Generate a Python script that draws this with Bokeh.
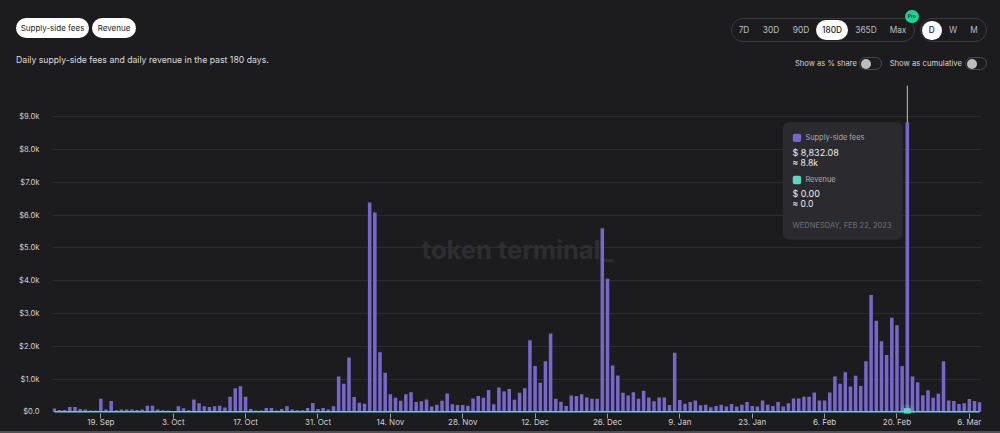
import json
import pandas as pd
from bokeh.plotting import figure
from bokeh.models import (Range1d, FixedTicker, CustomJSTickFormatter, Label,
                          BoxAnnotation, Span, Div)
from bokeh.layouts import column
from bokeh.embed import file_html
from bokeh.resources import INLINE

# ---------------- data ----------------
START_DATE = "2022-09-10"
N_DAYS = 180

supply_side_fees = [
    100, 60, 60, 150, 150, 90, 70, 40, 40, 400,
    70, 330, 50, 70, 70, 70, 60, 70, 190, 190,
    70, 50, 40, 15, 170, 110, 50, 380, 260, 170,
    150, 170, 190, 130, 460, 720, 780, 460, 90, 40,
    40, 120, 120, 40, 90, 170, 70, 50, 50, 120,
    270, 90, 120, 70, 170, 1080, 860, 1660, 450, 280,
    250, 6380, 6080, 1820, 1190, 540, 430, 340, 540, 600,
    300, 320, 380, 160, 220, 340, 560, 230, 210, 210,
    190, 410, 480, 430, 670, 230, 740, 620, 700, 370,
    580, 720, 2180, 1400, 890, 1540, 2390, 400, 310, 180,
    500, 480, 540, 440, 400, 400, 5600, 4060, 1410, 1110,
    580, 500, 600, 400, 640, 440, 320, 440, 440, 210,
    1800, 360, 250, 300, 350, 200, 220, 140, 180, 220,
    160, 240, 160, 220, 300, 180, 160, 350, 220, 180,
    300, 160, 260, 410, 410, 460, 460, 590, 350, 350,
    590, 1080, 860, 1210, 770, 1100, 790, 1540, 3560, 2780,
    2150, 1730, 2870, 2640, 1400, 8832.08, 1080, 900, 510, 660,
    430, 550, 1540, 350, 330, 240, 260, 390, 330, 290,
]

revenue = [
    0, 0, 0, 0, 0, 0, 0, 0, 0, 0, 0, 0, 0, 0, 0, 0, 0, 0, 0, 0,
    0, 0, 0, 0, 0, 0, 0, 0, 0, 0, 0, 0, 0, 0, 0, 0, 0, 0, 0, 0,
    0, 0, 0, 0, 0, 0, 0, 0, 0, 0, 0, 0, 0, 0, 0, 0, 0, 0, 0, 0,
    0, 0, 0, 0, 0, 0, 0, 0, 0, 0, 0, 0, 0, 0, 0, 0, 0, 0, 0, 0,
    0, 0, 0, 0, 0, 0, 0, 0, 0, 0, 0, 0, 0, 0, 0, 0, 0, 0, 0, 0,
    0, 0, 0, 0, 0, 0, 0, 0, 0, 0, 0, 0, 0, 0, 0, 0, 0, 0, 0, 0,
    0, 0, 0, 0, 0, 0, 0, 0, 0, 0, 0, 0, 0, 0, 0, 0, 0, 0, 0, 0,
    0, 0, 0, 0, 0, 0, 0, 0, 0, 0, 0, 0, 0, 0, 0, 0, 0, 0, 0, 0,
    0, 0, 0, 0, 0, 0, 0, 0, 0, 0, 0, 0, 0, 0, 0, 0, 0, 0, 0, 0,
]

x_tick_dates = ["2022-09-19", "2022-10-03", "2022-10-17", "2022-10-31",
                "2022-11-14", "2022-11-28", "2022-12-12", "2022-12-26",
                "2023-01-09", "2023-01-23", "2023-02-06", "2023-02-20",
                "2023-03-06"]
x_tick_labels = ["19. Sep", "3. Oct", "17. Oct", "31. Oct", "14. Nov", "28. Nov",
                 "12. Dec", "26. Dec", "9. Jan", "23. Jan", "6. Feb", "20. Feb",
                 "6. Mar"]
y_ticks = [0, 1000, 2000, 3000, 4000, 5000, 6000, 7000, 8000, 9000]
y_tick_labels = ["$0.0", "$1.0k", "$2.0k", "$3.0k", "$4.0k", "$5.0k", "$6.0k",
                 "$7.0k", "$8.0k", "$9.0k"]

highlight_date = "2023-02-22"
tooltip_lines = ["Supply-side fees", "$ 8,832.08", "≈ 8.8k", "Revenue", "$ 0.00",
                 "≈ 0.0", "WEDNESDAY, FEB 22, 2023"]

# ---------------- style ----------------
BG = "#1c1c1e"
PURPLE = "#7767cb"
TEAL = "#5ed6c0"
GRID = "#2d2d30"
LABEL = "#cfcfd1"
FONT = "Inter"
DAY = 86400000.0

EPOCH = pd.Timestamp("1970-01-01")
def to_ms(d):
    return float((pd.Timestamp(d) - EPOCH) / pd.Timedelta(milliseconds=1))

dates = pd.date_range(START_DATE, periods=N_DAYS, freq="D")
x_ms = [to_ms(d) for d in dates]
tick_ms = [to_ms(d) for d in x_tick_dates]
hi_ms = to_ms(highlight_date)
hi_idx = x_ms.index(hi_ms)

Y_START, Y_END = -50, 9950

p = figure(width=984, height=349, x_axis_type="datetime",
           x_range=Range1d(x_ms[0] - 0.35 * DAY, x_ms[-1] + 0.35 * DAY),
           y_range=Range1d(Y_START, Y_END),
           output_backend="svg", toolbar_location=None,
           min_border_left=44, min_border_right=11, min_border_top=5,
           min_border_bottom=0,
           background_fill_color=BG, border_fill_color=BG,
           outline_line_color=None)

# layout helpers (page pixel -> data) for annotation placement only
FRAME_TOP, FRAME_BOTTOM = 85.0, 414.0
def px_x(X):
    return x_ms[0] + (X - 53.8) / 5.17 * DAY
def px_y(Y):
    return Y_START + (FRAME_BOTTOM - Y) / (FRAME_BOTTOM - FRAME_TOP) * (Y_END - Y_START)

# gridlines
p.xgrid.grid_line_color = None
p.ygrid.grid_line_color = GRID
p.ygrid.ticker = FixedTicker(ticks=y_ticks[1:])

# watermark
p.add_layout(Label(x=px_x(517), y=px_y(249), text="token terminal_",
                   text_align="center", text_baseline="middle",
                   text_font=FONT, text_font_size="25.5px", text_font_style="bold",
                   text_color="#2e2e31", level="underlay"))

# crosshair
p.add_layout(Span(location=hi_ms, dimension="height", line_color="#c4c4c4",
                  line_width=1, level="underlay"))

# bars
p.vbar(x=x_ms, top=supply_side_fees, bottom=0, width=0.68 * DAY,
       fill_color=PURPLE, line_color=None)
# revenue (all zero) as baseline
p.line(x=x_ms, y=revenue, line_color=TEAL, line_width=1.5)
p.scatter(x=[hi_ms], y=[revenue[hi_idx]], marker="circle", size=15,
          fill_color=TEAL, fill_alpha=0.22, line_color=None)
p.scatter(x=[hi_ms], y=[revenue[hi_idx]], marker="square", size=7,
          fill_color=TEAL, line_color=None)

# axes
p.xaxis.ticker = FixedTicker(ticks=tick_ms)
xmap = {str(int(round(m))): lab for m, lab in zip(tick_ms, x_tick_labels)}
p.xaxis.formatter = CustomJSTickFormatter(
    code="const m = %s; const k = String(Math.round(tick)); return (k in m) ? m[k] : '';" % json.dumps(xmap))
p.xaxis.axis_line_color = None
p.xaxis.major_tick_out = 5
p.xaxis.major_tick_in = 0
p.xaxis.major_tick_line_color = "#9a9a9c"
p.xaxis.minor_tick_line_color = None
p.xaxis.major_label_standoff = -2
p.xaxis.major_label_text_font = FONT
p.xaxis.major_label_text_font_size = "8px"
p.xaxis.major_label_text_color = LABEL

p.yaxis.ticker = FixedTicker(ticks=y_ticks)
ymap = {str(v): lab for v, lab in zip(y_ticks, y_tick_labels)}
p.yaxis.formatter = CustomJSTickFormatter(
    code="const m = %s; const k = String(Math.round(tick)); return (k in m) ? m[k] : '';" % json.dumps(ymap))
p.yaxis.axis_line_color = None
p.yaxis.major_tick_line_color = None
p.yaxis.minor_tick_line_color = None
p.yaxis.major_label_standoff = 7
p.yaxis.major_label_text_font = FONT
p.yaxis.major_label_text_font_size = "7.6px"
p.yaxis.major_label_text_color = LABEL

# tooltip
p.add_layout(BoxAnnotation(left=px_x(782.5), right=px_x(902), top=px_y(122), bottom=px_y(239.5),
                           fill_color="#2b2b2f", fill_alpha=1.0, line_color="#333337",
                           line_width=1, border_radius=6))
p.add_layout(BoxAnnotation(left=px_x(792.3), right=px_x(800.7), top=px_y(133.3), bottom=px_y(141.7),
                           fill_color=PURPLE, fill_alpha=1.0, line_color=None, border_radius=2))
p.add_layout(BoxAnnotation(left=px_x(792.3), right=px_x(800.7), top=px_y(175.5), bottom=px_y(184),
                           fill_color=TEAL, fill_alpha=1.0, line_color=None, border_radius=2))
tt_spec = [  # (x, y, size, color)
    (805, 137.5, "7.4px", "#a9a9ae"),
    (792, 152, "9px", "#ececee"),
    (792, 163, "8.6px", "#ececee"),
    (805, 179.5, "7.4px", "#a9a9ae"),
    (792, 193, "9px", "#ececee"),
    (792, 204, "8.6px", "#ececee"),
    (792, 225, "7.5px", "#707076"),
]
for txt, (tx, ty, ts, tc) in zip(tooltip_lines, tt_spec):
    p.add_layout(Label(x=px_x(tx), y=px_y(ty), text=txt, text_align="left",
                       text_baseline="middle", text_font=FONT, text_font_size=ts,
                       text_color=tc))

# ---------------- header (HTML) ----------------
def box(left, top, w, h, text="", size=8.5, color=LABEL, align="center", weight=400, extra=""):
    return ('<div style="position:absolute;left:%spx;top:%spx;width:%spx;height:%spx;'
            'line-height:%spx;font-size:%spx;color:%s;text-align:%s;font-weight:%s;'
            'white-space:nowrap;box-sizing:border-box;%s">%s</div>'
            % (left, top, w, h, h, size, color, align, weight, extra, text))

parts = []
parts.append(box(8, 10, 73, 20, "Supply-side fees", 8, "#1c1c1e",
                 extra="background:#ffffff;border-radius:10px;"))
parts.append(box(84, 10, 44, 20, "Revenue", 8, "#1c1c1e",
                 extra="background:#ffffff;border-radius:10px;"))
parts.append(box(8, 45, 400, 14, "Daily supply-side fees and daily revenue in the past 180 days.",
                 8.7, "#dcdcde", align="left"))
# range selector
parts.append(box(723, 10, 184, 24, "", extra="border:1px solid #3a3a3d;border-radius:12px;"))
parts.append(box(808, 12, 32, 20, "", extra="background:#ffffff;border-radius:10px;"))
for lab, cx, sel in [("7D", 736, False), ("30D", 763, False), ("90D", 793, False),
                     ("180D", 824, True), ("365D", 858, False), ("Max", 890, False)]:
    parts.append(box(cx - 18, 12, 36, 20, lab, 8.3, "#1c1c1e" if sel else "#bdbdc0",
                     weight=500 if sel else 400))
parts.append(box(897, 1.5, 13.5, 13.5, "Pro", 5, "#0d3b2b", weight=600,
                 extra="background:#1fcf95;border-radius:50%;"))
parts.append(box(912, 10, 67, 24, "", extra="border:1px solid #3a3a3d;border-radius:12px;"))
parts.append(box(914, 12.5, 19.5, 19.5, "", extra="background:#ffffff;border-radius:50%;"))
for lab, cx, sel in [("D", 923.7, True), ("W", 945, False), ("M", 966, False)]:
    parts.append(box(cx - 10, 12, 20, 20, lab, 8.3, "#1c1c1e" if sel else "#bdbdc0",
                     weight=500 if sel else 400))
# toggles
parts.append(box(760, 48.5, 89, 14, "Show as % share", 7.6, "#d2d2d4", align="right"))
parts.append(box(851, 49, 23, 13, "", extra="border:1px solid #4a4a4d;border-radius:7px;"))
parts.append(box(852.5, 50.5, 10, 10, "", extra="background:#bdbdbf;border-radius:50%;"))
parts.append(box(860, 48.5, 94, 14, "Show as cumulative", 7.7, "#d2d2d4", align="right"))
parts.append(box(957, 49, 22, 13, "", extra="border:1px solid #4a4a4d;border-radius:7px;"))
parts.append(box(958.5, 50.5, 10, 10, "", extra="background:#bdbdbf;border-radius:50%;"))

header_html = ('<div style="position:relative;width:984px;height:72px;background:%s;'
               'font-family:Inter, \'Open Sans\', sans-serif;">%s</div>' % (BG, "".join(parts)))
header = Div(text=header_html, width=984, height=72, margin=(0, 0, 0, 0),
             styles={"background-color": BG})

layout = column(header, p, spacing=0)

TEMPLATE = """{% block postamble %}<style>html, body { background-color: #1c1c1e; } body { padding: 8px 8px 2px 8px !important; border-bottom: 2px solid #505053; }</style>{% endblock %}"""
open("out.html", "w").write(file_html(layout, INLINE, title="Supply-side fees", template=TEMPLATE))
